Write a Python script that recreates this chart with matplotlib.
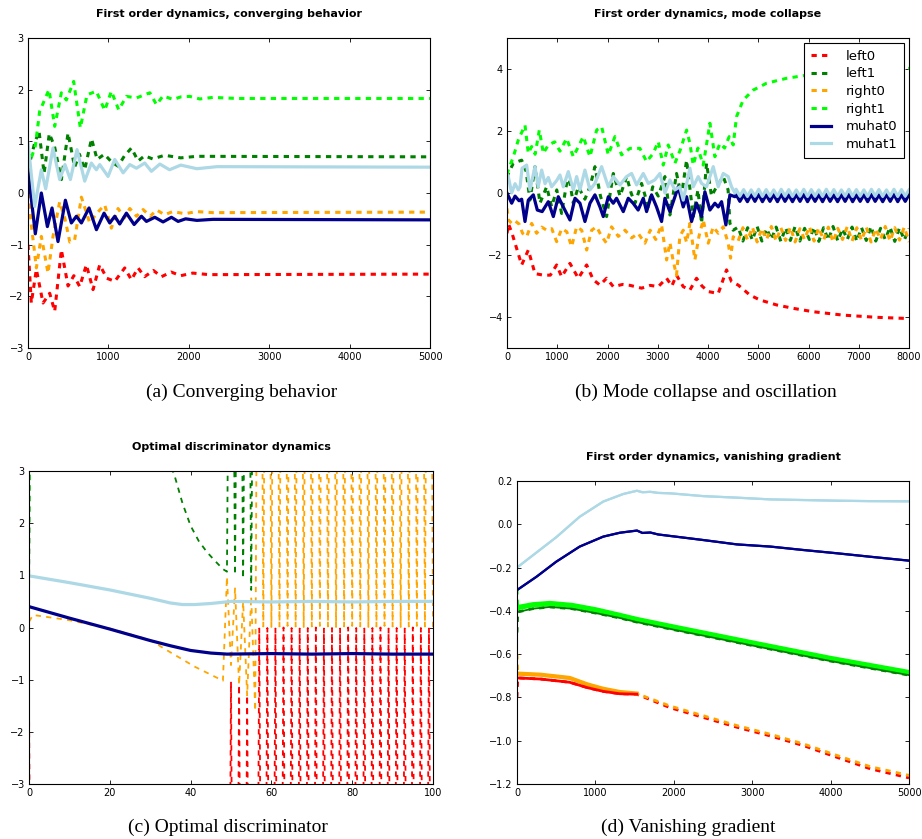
import numpy as np
import matplotlib
matplotlib.use("Agg")
import matplotlib.pyplot as plt

plt.rcParams['lines.scale_dashes'] = False
plt.rcParams['font.family'] = 'DejaVu Sans'

series_names = ['left0', 'left1', 'right0', 'right1', 'muhat0', 'muhat1']
series_colors = ['red', 'green', 'orange', 'lime', 'darkblue', 'lightblue']

# ---------------- (a) converging behavior ----------------
a_left0_x = [0, 41, 104, 187, 270, 332, 415, 498, 570, 643, 726, 809, 892, 980, 1079, 1203, 1286,
             1369, 1450, 1560, 1660, 1780, 1900, 2050, 2250, 5000]
a_left0_y = [-1.0, -2.13, -1.48, -2.13, -1.94, -2.29, -1.1, -1.8, -1.6, -1.81, -1.39, -1.87, -1.39,
             -1.65, -1.71, -1.45, -1.68, -1.45, -1.62, -1.5, -1.62, -1.53, -1.6, -1.55, -1.58, -1.57]
a_left1_x = [0, 80, 137, 200, 265, 330, 415, 498, 580, 640, 705, 790, 860, 950, 1040, 1120, 1200,
             1286, 1370, 1450, 1550, 1700, 1900, 2100, 5000]
a_left1_y = [0.45, 0.95, 1.2, 0.38, 1.15, 0.9, 0.26, 1.16, 0.5, 0.75, 0.45, 1.05, 0.65, 0.75, 0.6,
             0.52, 0.72, 0.87, 0.62, 0.72, 0.66, 0.73, 0.68, 0.71, 0.70]
a_right0_x = [0, 40, 104, 166, 249, 311, 394, 460, 520, 580, 664, 768, 850, 954, 1037, 1120, 1200,
              1266, 1350, 1432, 1520, 1600, 1700, 1800, 1950, 2100, 2300, 5000]
a_right0_y = [0.0, -0.6, -1.45, -0.84, -1.55, -0.84, -0.17, -0.5, -0.95, -0.91, -0.08, -0.58, -0.4,
              -0.23, -0.68, -0.3, -0.48, -0.3, -0.45, -0.32, -0.45, -0.33, -0.42, -0.36, -0.4, -0.36,
              -0.38, -0.37]
a_right1_x = [0, 90, 145, 261, 332, 415, 477, 568, 651, 734, 850, 954, 1037, 1128, 1224, 1349, 1515,
              1598, 1680, 1805, 1900, 2012, 2137, 2300, 2600, 5000]
a_right1_y = [0.5, 0.9, 1.58, 2.0, 1.29, 1.94, 1.8, 2.16, 1.26, 1.9, 1.97, 1.6, 1.97, 1.61, 1.87,
              1.84, 1.94, 1.71, 1.88, 1.81, 1.86, 1.87, 1.82, 1.85, 1.83, 1.83]
a_muhat0_x = [0, 91, 166, 241, 299, 373, 465, 539, 602, 664, 759, 851, 946, 1017, 1079, 1141, 1224,
              1320, 1411, 1473, 1577, 1680, 1784, 1867, 1960, 2100, 2300, 5000]
a_muhat0_y = [0.45, -0.79, 0.0, -0.65, -0.29, -0.94, -0.14, -0.58, -0.45, -0.58, -0.29, -0.71,
              -0.39, -0.58, -0.45, -0.6, -0.39, -0.61, -0.45, -0.55, -0.47, -0.56, -0.47, -0.55,
              -0.5, -0.53, -0.51, -0.52]
a_muhat1_x = [0, 83, 166, 220, 311, 394, 460, 527, 610, 705, 788, 850, 892, 996, 1079, 1183, 1266,
              1349, 1452, 1535, 1640, 1760, 1900, 2100, 2350, 5000]
a_muhat1_y = [0.97, -0.26, 0.45, 0.08, 0.87, 0.26, 0.55, 0.26, 0.84, 0.23, 0.58, 0.45, 0.55, 0.32,
              0.65, 0.39, 0.55, 0.48, 0.58, 0.42, 0.56, 0.45, 0.54, 0.47, 0.51, 0.5]

# ---------------- (b) mode collapse ----------------
b_left0_x = [0, 30, 100, 292, 424, 557, 723, 862, 988, 1087, 1253, 1419, 1585, 1717, 1850, 1982,
             2115, 2300, 2450, 2678, 2850, 3010, 3176, 3280, 3374, 3507, 3640, 3772, 3880, 4005,
             4204, 4369, 4469, 4601, 4833, 5032, 5364, 5695, 6093, 6690, 7353, 8000]
b_left0_y = [-1.3, -1.0, -1.3, -2.32, -1.84, -2.6, -2.65, -2.65, -2.32, -2.7, -2.27, -2.75, -2.32,
             -2.8, -2.97, -2.75, -3.02, -2.95, -2.98, -3.07, -2.98, -3.02, -2.75, -3.0, -2.65, -3.02,
             -3.13, -2.75, -3.0, -3.18, -3.24, -2.48, -2.86, -2.97, -3.29, -3.45, -3.61, -3.72,
             -3.83, -3.94, -4.01, -4.05]
b_left1_x = [0, 26, 126, 292, 380, 457, 557, 656, 789, 888, 990, 1087, 1220, 1319, 1420, 1550,
             1651, 1750, 1860, 1982, 2115, 2250, 2380, 2470, 2546, 2678, 2811, 2900, 3010, 3143,
             3242, 3374, 3470, 3574, 3706, 3800, 3872, 3971, 4070, 4170, 4303, 4400, 4436, 4502]
b_left1_y = [0.5, 0.63, 0.96, 1.06, 0.7, -0.23, 0.85, -0.33, 0.2, -0.44, 0.1, -0.66, 0.63, -0.33,
             0.2, -0.2, 0.2, 0.85, -0.1, -0.76, 0.63, -0.1, 0.53, 0.0, -0.33, 0.31, -0.44, 0.2,
             -0.1, 0.53, -0.71, 0.63, -0.1, 1.06, -0.76, 0.1, -0.98, 0.96, -0.1, 0.2, 0.53, 0.1,
             -0.98, -1.2]
b_left1_tail = [-1.10, -1.55, -1.12, -1.52, -1.08, -1.55, -1.15, -1.50, -1.10, -1.56,
                -1.12, -1.53, -1.08, -1.55, -1.14, -1.50, -1.10, -1.56, -1.12, -1.52,
                -1.08, -1.55, -1.15, -1.50, -1.10, -1.56, -1.12, -1.53, -1.08, -1.55,
                -1.14, -1.50, -1.10, -1.56, -1.12, -1.52, -1.15]
b_right0_x = [0, 30, 93, 160, 240, 310, 391, 491, 590, 690, 790, 890, 988, 1090, 1190, 1286, 1386,
              1486, 1585, 1684, 1784, 1883, 1982, 2081, 2215, 2350, 2480, 2610, 2745, 2850, 2960,
              3076, 3176, 3242, 3308, 3374, 3440, 3507, 3574, 3640, 3739, 3820, 3905, 4005, 4104,
              4204, 4303, 4402, 4449, 4502]
b_right0_y = [-0.5, -0.87, -0.98, -0.9, -1.0, -1.3, -1.41, -0.98, -1.3, -1.1, -1.2, -1.15, -1.57,
              -1.15, -1.25, -1.73, -1.09, -1.2, -1.84, -1.2, -1.09, -1.4, -1.62, -1.09, -1.4, -1.2,
              -1.45, -1.3, -1.62, -1.2, -1.5, -1.03, -2.16, -1.6, -2.2, -2.65, -1.4, -1.2, -1.6,
              -0.98, -2.16, -1.4, -0.87, -1.62, -1.09, -1.3, -1.09, -1.62, -2.1, -1.41]
b_right0_tail = [-1.55, -1.12, -1.52, -1.10, -1.58, -1.14, -1.50, -1.08, -1.55, -1.12,
                 -1.53, -1.10, -1.58, -1.15, -1.50, -1.08, -1.55, -1.12, -1.52, -1.10,
                 -1.58, -1.14, -1.50, -1.08, -1.55, -1.12, -1.53, -1.10, -1.58, -1.15,
                 -1.50, -1.08, -1.55, -1.12, -1.52, -1.10, -1.58]
b_right1_x = [0, 26, 126, 225, 358, 424, 490, 560, 643, 723, 822, 950, 1054, 1187, 1320, 1518,
              1651, 1784, 1883, 2016, 2148, 2281, 2446, 2645, 2778, 2911, 3010, 3110, 3209, 3342,
              3450, 3574, 3640, 3706, 3800, 3905, 4038, 4137, 4237, 4330, 4422, 4502, 4568, 4700,
              4900, 5165, 5563, 5961, 6500, 7000, 7500, 8000]
b_right1_y = [0.6, 0.74, 1.17, 1.71, 2.19, 1.28, 1.5, 1.25, 2.03, 1.28, 1.55, 1.65, 1.35, 1.76,
              1.17, 1.82, 1.17, 2.03, 2.14, 1.23, 1.82, 1.23, 1.44, 1.44, 1.01, 1.28, 1.66, 0.9,
              1.55, 0.96, 1.4, 2.03, 1.6, 0.9, 1.45, 0.9, 2.25, 1.17, 1.6, 1.45, 1.82, 1.55, 2.46,
              3.0, 3.32, 3.54, 3.7, 3.8, 3.88, 3.94, 3.98, 4.02]
b_muhat0_x = [0, 93, 160, 240, 292, 358, 424, 524, 603, 700, 822, 922, 1021, 1120, 1253, 1353,
              1452, 1551, 1651, 1750, 1850, 1916, 2016, 2115, 2180, 2314, 2413, 2510, 2610, 2712,
              2778, 2877, 2976, 3076, 3143, 3242, 3342, 3408, 3507, 3574, 3673, 3772, 3872, 3938,
              4038, 4137, 4204, 4270, 4356, 4436, 4535]
b_muhat0_y = [0.0, -0.33, -0.1, -0.25, -0.2, -0.92, -0.23, -0.06, -0.55, -0.6, -0.28, -0.76,
              -0.12, -0.45, -0.87, -0.17, -0.33, -0.92, -0.33, -0.06, -0.45, -0.76, -0.12, -0.33,
              -0.17, -0.6, -0.17, -0.33, -0.55, -0.17, -0.6, -0.06, -0.45, -0.92, -0.17, -0.6,
              -0.12, 0.2, -0.45, -0.12, -0.92, -0.33, -0.76, 0.04, -0.55, -0.33, -0.45, -0.28,
              -1.03, -0.06, -0.12]
b_muhat0_tail = [-0.05, -0.27, -0.06, -0.28, -0.05, -0.27, -0.04, -0.28, -0.06, -0.27,
                 -0.05, -0.28, -0.04, -0.27, -0.06, -0.28, -0.05, -0.27, -0.04, -0.28,
                 -0.06, -0.27, -0.05, -0.28, -0.04, -0.27, -0.06, -0.28, -0.05, -0.27,
                 -0.04, -0.28, -0.06, -0.27, -0.05, -0.28, -0.04, -0.27, -0.06, -0.28,
                 -0.05, -0.27, -0.04, -0.28, -0.06, -0.27, -0.05]
b_muhat1_x = [0, 26, 93, 160, 225, 260, 300, 391, 457, 557, 620, 690, 757, 822, 888, 988, 1054,
              1120, 1220, 1320, 1386, 1452, 1551, 1651, 1750, 1883, 2016, 2115, 2248, 2380, 2480,
              2579, 2712, 2811, 2940, 3043, 3143, 3242, 3342, 3440, 3507, 3640, 3706, 3805, 3872,
              3971, 4104, 4204, 4303, 4402, 4469, 4535]
b_muhat1_y = [0.6, 0.53, 0.0, 0.3, 0.1, 0.2, 0.8, 0.9, 0.1, 0.85, 0.2, 0.74, 0.3, 0.5, 0.2, 0.4,
              0.58, 0.2, 0.69, 0.1, 0.53, 0.1, 0.74, 0.1, 0.31, 0.85, 0.2, 0.53, 0.26, 0.53, 0.63,
              0.26, 0.63, 0.31, 0.42, 0.63, 0.0, 0.42, 0.1, 0.2, -0.23, 0.8, 0.2, 0.53, 0.31, 0.2,
              0.85, 0.2, 0.63, 0.53, 0.2, 0.0]
b_muhat1_tail = [0.12, -0.10, 0.11, -0.11, 0.10, -0.10, 0.12, -0.11, 0.11, -0.10,
                 0.10, -0.11, 0.12, -0.10, 0.11, -0.11, 0.10, -0.10, 0.12, -0.11,
                 0.11, -0.10, 0.10, -0.11, 0.12, -0.10, 0.11, -0.11, 0.10, -0.10,
                 0.12, -0.11, 0.11, -0.10, 0.10, -0.11, 0.12, -0.10, 0.11, -0.11,
                 0.10, -0.10, 0.12, -0.11, 0.11, -0.10, 0.10]

# ---------------- (c) optimal discriminator (unit steps) ----------------
c_left0_x = [0, 1, 48, 49, 50, 51, 52, 53, 54, 55]
c_left0_y = [-1.4, -15, -15, -15, -1.04, -15, -1.1, -15, -1.3, -15]
c_left0_tail = [-15, -0.02, -15, -0.01, -15, -0.02, -15, 0.0, -15, -0.01,
                -15, -0.02, -15, -0.01, -15, 0.0, -15, -0.02, -15, -0.01,
                -15, -0.02, -15, 0.0, -15, -0.01, -15, -0.02, -15, -0.01,
                -15, 0.0, -15, -0.02, -15, -0.01, -15, -0.02, -15, 0.0,
                -15, -0.01, -15, -0.02, -15]
c_left1_x = [0, 1, 15, 25, 30, 34, 36, 38, 40, 42, 44, 46, 48, 49, 50, 51, 52, 53, 54, 55, 56, 100]
c_left1_y = [0.4, 14, 8, 5, 4.2, 3.3, 2.92, 2.38, 1.95, 1.66, 1.45, 1.28, 1.12, 1.07, 12, 1.01, 12,
             0.94, 12, 0.72, 12, 12]
c_right0_x = [0, 1, 10, 20, 30, 34, 41, 48, 49, 50, 51, 52, 53, 54, 55]
c_right0_y = [0.11, 0.24, 0.14, -0.02, -0.24, -0.43, -0.75, -1.02, 0.97, -0.72, 0.75, -1.1, 0.5,
              -1.3, 0.6]
c_right0_tail = [-1.6, 15, 0.02, 15, 0.01, 15, 0.02, 15, 0.03, 15,
                 0.02, 15, 0.01, 15, 0.02, 15, 0.03, 15, 0.02, 15,
                 0.01, 15, 0.02, 15, 0.03, 15, 0.02, 15, 0.01, 15,
                 0.02, 15, 0.03, 15, 0.02, 15, 0.01, 15, 0.02, 15,
                 0.03, 15, 0.02, 15, 0.01]
c_right1_x = [0, 1, 100]
c_right1_y = [1.0, 14, 14]
c_muhat0_x = [0, 10, 20, 30, 35, 40, 45, 49, 60, 70, 80, 90, 100]
c_muhat0_y = [0.40, 0.18, -0.03, -0.25, -0.35, -0.44, -0.49, -0.51, -0.5, -0.51, -0.5, -0.51, -0.51]
c_muhat1_x = [0, 10, 20, 30, 35, 38, 41, 45, 50, 60, 70, 80, 90, 100]
c_muhat1_y = [0.99, 0.86, 0.72, 0.56, 0.47, 0.44, 0.44, 0.46, 0.5, 0.49, 0.5, 0.49, 0.5, 0.5]

# ---------------- (d) vanishing gradient ----------------
d_x = [0, 10, 300, 672, 900, 1100, 1313, 1526, 1956, 2381, 2806, 3231, 3656, 4082, 4507, 5000]
d_left0_y = [-0.8, -0.71, -0.715, -0.73, -0.755, -0.772, -0.783, -0.785, -0.848, -0.893, -0.938,
             -0.978, -1.023, -1.077, -1.13, -1.172]
d_right0_y = [-0.6, -0.69, -0.695, -0.71, -0.74, -0.76, -0.775, -0.782, -0.84, -0.885, -0.93,
              -0.97, -1.015, -1.068, -1.12, -1.16]
d_green_x = [0, 10, 200, 420, 700, 1000, 1300, 1530, 2000, 3000, 4000, 5000]
d_left1_y = [-0.5, -0.405, -0.39, -0.382, -0.39, -0.41, -0.432, -0.452, -0.487, -0.56, -0.632, -0.697]
d_right1_y = [-0.30, -0.385, -0.372, -0.366, -0.375, -0.395, -0.42, -0.44, -0.475, -0.548, -0.62,
              -0.685]
d_muhat0_x = [0, 250, 500, 800, 1100, 1313, 1530, 1600, 1700, 1800, 1956, 2381, 2806, 3231, 3656,
              4082, 4507, 5000]
d_muhat0_y = [-0.304, -0.242, -0.173, -0.103, -0.057, -0.039, -0.029, -0.04, -0.038, -0.047, -0.054,
              -0.073, -0.093, -0.103, -0.119, -0.134, -0.15, -0.168]
d_muhat1_x = [0, 250, 500, 800, 1100, 1356, 1530, 1600, 1700, 1800, 1956, 2381, 2806, 3231, 3656,
              4082, 4500, 5000]
d_muhat1_y = [-0.2, -0.13, -0.06, 0.035, 0.105, 0.14, 0.155, 0.148, 0.15, 0.145, 0.143, 0.13, 0.123,
              0.115, 0.112, 0.109, 0.107, 0.106]

W, H = 922, 839
DASH = (3.8, 3.8)


def rect(l, r, t, b):
    return [l / W, 1 - b / H, (r - l) / W, (b - t) / H]


def style_axes(ax, title, xlim, ylim, yticks):
    ax.set_xlim(*xlim)
    ax.set_ylim(*ylim)
    ax.set_yticks(yticks)
    ax.tick_params(direction='in', top=True, right=True, labelsize=7, length=3, width=0.6, pad=3)
    ax.set_title(title, fontsize=8, fontweight='bold', pad=15)
    for s in ax.spines.values():
        s.set_linewidth(0.8)


def draw(ax, xs, ys, lw_dash, lw_solid):
    for name, color, x, y in zip(series_names, series_colors, xs, ys):
        if name.startswith('muhat'):
            ax.plot(x, y, color=color, lw=lw_solid, label=name)
        else:
            ax.plot(x, y, color=color, lw=lw_dash, dashes=DASH, label=name)


def with_tail(x, y, tail, start, stop):
    tx = np.linspace(start, stop, len(tail))
    return list(x) + list(tx), list(y) + list(tail)


fig = plt.figure(figsize=(W / 100, H / 100), dpi=100)

# (a)
ax = fig.add_axes(rect(28, 430, 38, 348))
draw(ax, [a_left0_x, a_left1_x, a_right0_x, a_right1_x, a_muhat0_x, a_muhat1_x],
     [a_left0_y, a_left1_y, a_right0_y, a_right1_y, a_muhat0_y, a_muhat1_y], 2.2, 2.3)
style_axes(ax, 'First order dynamics, converging behavior', (0, 5000), (-3, 3), range(-3, 4))

# (b)
ax = fig.add_axes(rect(507, 909, 38, 348))
l1 = with_tail(b_left1_x, b_left1_y, b_left1_tail, 4600, 8000)
r0 = with_tail(b_right0_x, b_right0_y, b_right0_tail, 4600, 8000)
m0 = with_tail(b_muhat0_x, b_muhat0_y, b_muhat0_tail, 4560, 8000)
m1 = with_tail(b_muhat1_x, b_muhat1_y, b_muhat1_tail, 4560, 8000)
draw(ax, [b_left0_x, l1[0], r0[0], b_right1_x, m0[0], m1[0]],
     [b_left0_y, l1[1], r0[1], b_right1_y, m0[1], m1[1]], 2.2, 2.3)
style_axes(ax, 'First order dynamics, mode collapse', (0, 8000), (-5, 5), [-4, -2, 0, 2, 4])
ax.legend(loc='upper right', fontsize=9.5, frameon=True, fancybox=False, edgecolor='black',
          framealpha=1, handlelength=1.5, handletextpad=1.1, labelspacing=0.35, borderpad=0.5,
          borderaxespad=0.4).get_frame().set_linewidth(0.8)

# (c)
ax = fig.add_axes(rect(29, 433, 471, 784))
osc_x = np.arange(56, 101)
draw(ax, [c_left0_x + list(osc_x), c_left1_x, c_right0_x + list(osc_x), c_right1_x,
          c_muhat0_x, c_muhat1_x],
     [c_left0_y + c_left0_tail, c_left1_y, c_right0_y + c_right0_tail, c_right1_y,
      c_muhat0_y, c_muhat1_y], 1.3, 2.3)
style_axes(ax, 'Optimal discriminator dynamics', (0, 100), (-3, 3), range(-3, 4))

# (d)
ax = fig.add_axes(rect(517, 909, 481, 784))
draw(ax, [d_x, d_green_x, d_x, d_green_x, d_muhat0_x, d_muhat1_x],
     [d_left0_y, d_left1_y, d_right0_y, d_right1_y, d_muhat0_y, d_muhat1_y], 2.0, 1.6)
# dense early oscillations render as a solid band
early = slice(1, 8)
ax.plot(d_x[early], d_right0_y[early], color='orange', lw=3.0)
ax.plot(d_x[early], d_left0_y[early], color='red', lw=2.0)
ax.plot(d_green_x[1:], d_right1_y[1:], color='lime', lw=3.8)
ax.plot(d_green_x[1:], d_left1_y[1:], color='green', lw=1.3)
ax.plot(d_muhat0_x, d_muhat0_y, color='darkblue', lw=1.6)
ax.plot(d_muhat1_x, d_muhat1_y, color='lightblue', lw=1.6)
style_axes(ax, 'First order dynamics, vanishing gradient', (0, 5000), (-1.2, 0.2),
           np.arange(-1.2, 0.21, 0.2))

captions = ['(a) Converging behavior', '(b) Mode collapse and oscillation',
            '(c) Optimal discriminator', '(d) Vanishing gradient']
cap_pos = [(242, 392), (706, 392), (228, 827), (688, 827)]
for text, (cx, cy) in zip(captions, cap_pos):
    fig.text(cx / W, 1 - cy / H, text, ha='center', va='center', family='Liberation Serif',
             size=14)

fig.savefig('out.png', dpi=100)
